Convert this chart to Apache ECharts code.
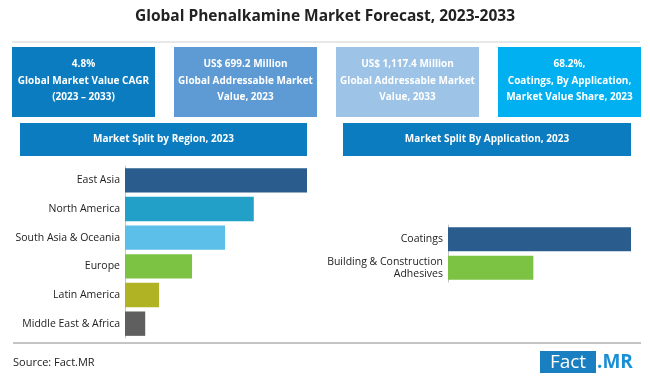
<!DOCTYPE html>
<html>
<head>
<meta charset="utf-8">
<script src="https://cdn.jsdelivr.net/npm/echarts@6/dist/echarts.min.js"></script>
<style>
  html, body { margin: 0; padding: 0; background: #fff; }
  #main { width: 650px; height: 377px; }
</style>
</head>
<body>
<div id="main"></div>
<script>
// region split, 2023 (share %)
var regionNames = ['East Asia', 'North America', 'South Asia & Oceania', 'Europe', 'Latin America', 'Middle East & Africa'];
var regionValues = [34.2, 24.2, 18.8, 12.6, 6.4, 3.8];
var regionColors = ['#2b5c8e', '#22a0c8', '#5bbfea', '#7cc243', '#b0b324', '#5f5f5f'];

// application split, 2023 (share %)
var appNames = ['Coatings', 'Building & Construction\nAdhesives'];
var appValues = [68.2, 31.8];
var appColors = ['#2b5c8e', '#7cc243'];

// KPI cards
var cardTexts = [
	'4.8%\nGlobal Market Value CAGR\n(2023 – 2033)',
	'US$ 699.2 Million\nGlobal Addressable Market\nValue, 2023',
	'US$ 1,117.4 Million\nGlobal Addressable Market\nValue, 2033',
	'68.2%,\nCoatings, By Application,\nMarket Value Share, 2023'
];
var cardColors = ['#0b7cbf', '#5e9bd4', '#9dc3e6', '#00b0f0'];
var cardLeft = [12, 174, 336, 498];

var FONT = '"Open Sans", "Noto Sans", sans-serif';

var graphics = [];
// title
graphics.push({
	type: 'text', left: 'center', top: 9,
	style: { text: 'Global Phenalkamine Market Forecast, 2023-2033', fill: '#222', font: 'bold 15.5px ' + FONT }
});
graphics.push({
	type: 'line', shape: { x1: 12, y1: 42, x2: 640, y2: 42 },
	style: { stroke: '#d0d0d0', lineWidth: 1 }
});
for (var i = 0; i < cardTexts.length; i++) {
	graphics.push({
		type: 'rect', shape: { x: cardLeft[i], y: 47, width: 143, height: 70 },
		style: { fill: cardColors[i] }
	});
	graphics.push({
		type: 'text', x: cardLeft[i] + 71.5, y: 81,
		style: {
			text: cardTexts[i], fill: '#fff', font: 'bold 10px ' + FONT,
			align: 'center', verticalAlign: 'middle', lineHeight: 16.5
		}
	});
}
// section headers
var headers = [
	{ x: 20, w: 287, text: 'Market Split by Region, 2023' },
	{ x: 343, w: 288, text: 'Market Split By Application, 2023' }
];
headers.forEach(function (h) {
	graphics.push({
		type: 'rect', shape: { x: h.x, y: 123, width: h.w, height: 33 },
		style: { fill: '#0b7cbf' }
	});
	graphics.push({
		type: 'text', x: h.x + h.w / 2, y: 139.5,
		style: { text: h.text, fill: '#fff', font: 'bold 10px ' + FONT, align: 'center', verticalAlign: 'middle' }
	});
});
// footer
graphics.push({
	type: 'line', shape: { x1: 13, y1: 343, x2: 641, y2: 343 },
	style: { stroke: '#8a8a8a', lineWidth: 1 }
});
graphics.push({
	type: 'text', x: 13, y: 363,
	style: { text: 'Source: Fact.MR', fill: '#222', font: '11px ' + FONT, verticalAlign: 'middle' }
});
graphics.push({
	type: 'rect', shape: { x: 540, y: 351, width: 56, height: 22 },
	style: { fill: '#1a7fc0' }
});
graphics.push({
	type: 'text', x: 568, y: 363,
	style: { text: 'Fact', fill: '#fff', font: '19px ' + FONT, align: 'center', verticalAlign: 'middle' }
});
graphics.push({
	type: 'text', x: 597, y: 363,
	style: { text: '.MR', fill: '#1a8fd6', font: 'bold 19px ' + FONT, verticalAlign: 'middle' }
});

var option = {
	animation: false,
	backgroundColor: '#fff',
	graphic: graphics,
	grid: [
		{ left: 125, top: 166, width: 182, height: 172 },
		{ left: 448, top: 225, width: 183, height: 57 }
	],
	xAxis: [
		{ gridIndex: 0, type: 'value', min: 0, max: 34.2, show: false },
		{ gridIndex: 1, type: 'value', min: 0, max: 68.2, show: false }
	],
	yAxis: [
		{
			gridIndex: 0, type: 'category', inverse: true, data: regionNames,
			axisLine: { show: true, lineStyle: { color: '#c4c4c4' } },
			axisTick: { show: false },
			axisLabel: { color: '#222', fontSize: 10.5, fontFamily: FONT, margin: 5 }
		},
		{
			gridIndex: 1, type: 'category', inverse: true, data: appNames,
			axisLine: { show: true, lineStyle: { color: '#c4c4c4' } },
			axisTick: { show: false },
			axisLabel: { color: '#222', fontSize: 10.5, fontFamily: FONT, margin: 5, lineHeight: 12 }
		}
	],
	series: [
		{
			type: 'bar', xAxisIndex: 0, yAxisIndex: 0, barCategoryGap: '15%',
			data: regionValues.map(function (v, i) { return { value: v, itemStyle: { color: regionColors[i] } }; })
		},
		{
			type: 'bar', xAxisIndex: 1, yAxisIndex: 1, barCategoryGap: '15%',
			data: appValues.map(function (v, i) { return { value: v, itemStyle: { color: appColors[i] } }; })
		}
	]
};

var chart = echarts.init(document.getElementById('main'));
chart.setOption(option);
</script>
</body>
</html>
